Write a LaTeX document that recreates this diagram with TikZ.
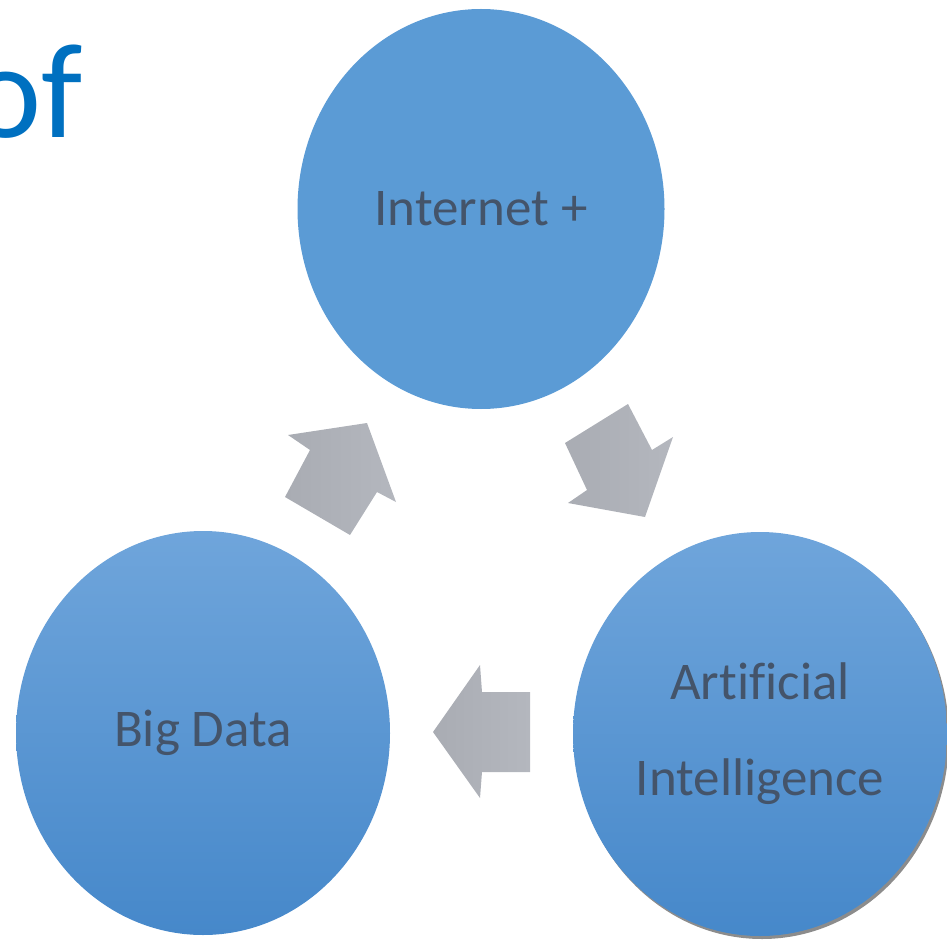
\documentclass[tikz,border=0pt]{standalone}
\usepackage{fontspec}
\setmainfont[Ligatures=NoCommon]{Carlito}
\usetikzlibrary{shapes.geometric,shadows}
\definecolor{flatblue}{HTML}{5B9BD5}
\definecolor{topblue}{HTML}{6FA5DB}
\definecolor{botblue}{HTML}{4688CA}
\definecolor{txtcol}{HTML}{44546A}
\definecolor{titleblue}{HTML}{0070C0}
\definecolor{grayA}{HTML}{A9ACB3}
\definecolor{grayB}{HTML}{B4B7BE}
\tikzset{
  bubble/.style={ellipse, inner sep=0pt, minimum width=374pt, minimum height=404pt,
    text=txtcol, font=\fontsize{53}{96}\selectfont, align=center},
  flatbubble/.style={bubble, fill=flatblue},
  gradbubble/.style={bubble, top color=topblue, bottom color=botblue},
  blockarrow/.style={left color=grayA, right color=grayB, draw=none}
}
\begin{document}
\begin{tikzpicture}[x=1pt,y=-1pt]
\useasboundingbox (0,0) rectangle (947,941);
% title fragment
\node[anchor=base west, inner sep=0pt, text=titleblue, font=\fontsize{135}{140}\selectfont] (title) at (-30,138) {of};
% circles
\node[flatbubble, minimum width=367pt, minimum height=400pt] (inet) at (481,209) {Internet +};
\node[gradbubble] (big) at (203,733) {Big Data};
\node[gradbubble, drop shadow={shadow xshift=2pt, shadow yshift=-3pt, opacity=0.45, fill=black}] (ai) at (760,734) {Artificial\\Intelligence};
% block arrows
\path[blockarrow] (367,423) -- (288,435) -- (310,450) -- (285,497) -- (350,535) -- (377,492) -- (396,502) -- cycle;
\path[blockarrow] (628,404) -- (565,443) -- (587,490) -- (568,503) -- (645,517) -- (673,437) -- (652,450) -- cycle;
\path[blockarrow] (433,732) -- (480,665) -- (482,692) -- (530,692) -- (530,772) -- (482,772) -- (480,798) -- cycle;
\end{tikzpicture}
\end{document}
